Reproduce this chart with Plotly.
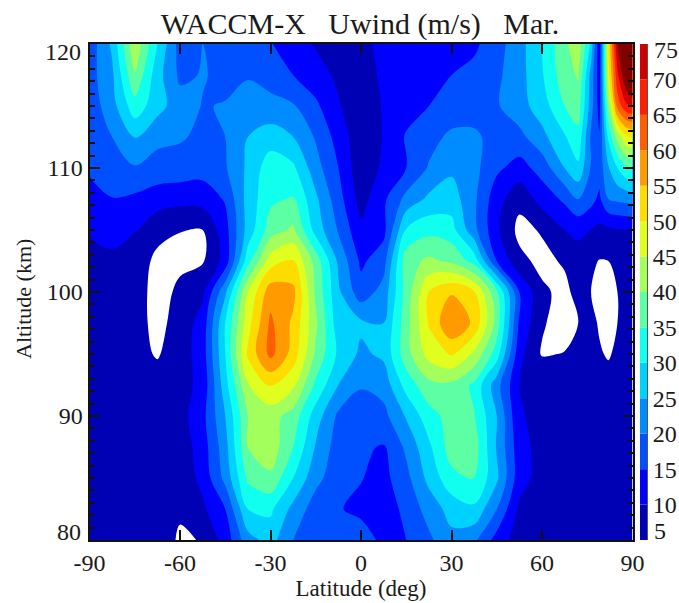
import plotly.graph_objects as go

lat = [-90,-82.5,-75,-67.5,-60,-52.5,-45,-37.5,-30,-22.5,-15,-7.5,0,7.5,15,22.5,30,37.5,45,52.5,60,67.5,72,76,79,82,85,88,90]
alt = [80,82.5,85,87.5,90,92.5,95,97.5,100,102.5,105,107.5,110,112.5,115,117.5,120]

u080 = [7,7,7,7,4.5,5.2,12,23,27,20,16.5,16,17,14,15,19,23.5,21,13,7.5,7,7,7,7,7,7,7,7,7]
u082 = [7,7,7,7,5.5,9,15,30,31,23.5,17.5,15.3,14,12,16.5,22,27,29,20,9,7.5,7.5,7.5,7.5,7.5,7.5,7.5,7.5,7.5]
u085 = [7,7,7,7,6.5,11.5,21.5,36,39,30,21.5,17,15.2,13.5,18.5,26.5,33.5,35.2,26,12,8,8,8,8,8,8,8,8,8]
u087 = [7,7,7,7,7,12.5,23,40,43,35,24.5,17.5,16,14.5,21,29,37.5,37.5,24.5,12,8,8,8,8,8,8,8,8,8]
u090 = [7,7,7,7,8,13.5,25,40,42,38,27.5,19,17,18.5,25.5,33,37,35.3,25,10.5,8.5,8.5,8.5,8.5,8.5,8.5,8.5,8.5,8.5]
u092 = [6.5,6.5,7,7,8,11.5,28,44.5,50.5,46,34,25,20.5,22,32,38.5,38.8,34,22,10,8,8,8,8,7.5,7,7.5,8,8]
u095 = [6.5,6.5,6.5,4.6,7.5,12.5,30,51,61.5,53,39,29,24,26,38,47,50.5,44,32.5,11.5,4.6,5.2,7.5,6.5,5.5,4.5,6,6.5,7]
u097 = [7,7.5,7,3.5,7,12,30,48,61,54,41,27,26,25,38,50.5,59.8,54,38,14,5.5,3,5,6.5,4.5,3,5,6.5,7]
u100 = [7.5,8,7.5,3,6,9,24,45,58,56.5,39,26,17,22,37,50,54.5,50.5,36,15,6,3.5,7,5.2,3,3,5,7,7.5]
u102 = [8,9.5,8.5,3.5,4,4.5,12,33,47.5,50.2,38,24,14,18,38,41,39,33,15,6.5,3.5,5.7,8,6,4.8,5,7.5,8.5,8.5]
u105 = [10.7,10.8,10.2,7,5.1,5.0,13,27,37.5,41,28,19.5,11,13.5,30.5,33.5,32,21.5,11,3.5,5.5,10,11,10,9,9,9.5,9.8,10]
u107 = [12.5,14.8,14,12,11.5,12,15.5,27,34,35.5,26,17,8,14,21.5,26,27.5,21,12,6.5,12,16,20,17,14,20,21,21.5,22]
u110 = [16,18.5,19.5,18.5,18,17,19.5,26,33,31,22,15,6.5,11,15,20.5,24,21.5,16,13,17,25,29,20,17,24.5,30,34.5,36]
u112 = [17,20,25.5,21,20.5,19,20,25,27.5,25,19.5,13,6.5,10.3,15.5,18,21.2,21,18,18.5,23.5,29.5,33.5,20,15.5,31,42,49,50.5]
u115 = [17,23,33,27,22,19.8,20.2,22.5,21.5,20.5,16,10.5,6.5,10.5,13,15,16.5,17.5,19.5,23,27.5,35,37.5,23,13,40,62,69,70]
u117 = [18,24,39.5,27,19,20.3,19,19.5,18,15,12,9,7.5,11,12,13,15,16.5,19,23,29.5,38,40.5,24,12,48,69,81,87]
u120 = [17,26,44,30,18,20,18,17,15.3,12.5,9.5,7,9.5,10.5,11.5,12,12.5,14,18,23,30,39,43,30,11,50,75,90,96]
uwind = [u080,u082,u085,u087,u090,u092,u095,u097,u100,u102,u105,u107,u110,u112,u115,u117,u120]

levels = [5,10,15,20,25,30,35,40,45,50,55,60,65,70,75]
band_colors = ["#0000B4","#0000FF","#0050FF","#008CFF","#00D2FF","#10FFEF","#5CFFA3","#A3FF5C",
               "#E0FF1F","#FFDC00","#FF9B00","#FF5E00","#FF1F00","#D00000"]
top_color = "#800000"
lat_ticks = [-90,-60,-30,0,30,60,90]
lat_labels = ["-90","-60","-30","0","30","60","90"]
alt_inner_ticks = [90,100,110]

W, H = 679, 603
def fx(px): return px/W
def fy(px): return 1-px/H
FONT = "Liberation Serif"
INK = "#1a1a1a"

n = len(band_colors)
colorscale = [[0, "#FFFFFF"], [0.02, "#FFFFFF"]]
colorscale += [[(i+0.5)/n, c] for i, c in enumerate(band_colors)]
colorscale += [[1, top_color]]

fig = go.Figure()
fig.add_trace(go.Contour(
    x=lat, y=alt, z=uwind, colorscale=colorscale, showscale=False, autocontour=False,
    zmin=5, zmax=75,
    contours=dict(start=levels[0], end=levels[-1], size=5, coloring="fill", showlines=False),
    line=dict(width=0), hoverinfo="skip"))

fig.add_trace(go.Bar(
    x=[0]*n, y=[5]*n, base=levels[:-1],
    marker=dict(color=band_colors, line=dict(width=0)), width=1,
    xaxis="x2", yaxis="y2", showlegend=False, hoverinfo="skip"))

xd = [fx(89.5), fx(632.5)]
yd = [fy(540), fy(44)]
axis_common = dict(showgrid=False, zeroline=False, showline=True, linecolor="#111111", linewidth=2,
                   automargin=False, ticks="inside", tickcolor="#111111", tickwidth=1.5, ticklen=10,
                   mirror="allticks", tickfont=dict(family=FONT, size=24, color=INK))

def label(text, x, y, anchor="left", size=24, angle=0):
    return dict(text=text, xref="paper", yref="paper", x=fx(x), y=fy(y), xanchor=anchor, yanchor="middle",
                showarrow=False, textangle=angle, font=dict(family=FONT, size=size, color=INK))

fig.update_layout(
    width=W, height=H, margin=dict(l=0, r=0, t=0, b=0), paper_bgcolor="white", plot_bgcolor="white",
    font=dict(family=FONT, color=INK), barmode="overlay",
    title=dict(text="WACCM-X\u00a0\u00a0\u00a0Uwind (m/s)\u00a0\u00a0\u00a0Mar.", x=fx(360), xanchor="center",
               y=fy(23), yanchor="middle", font=dict(family=FONT, size=30, color=INK)),
    xaxis=dict(domain=xd, range=[-90,90], tickvals=lat_ticks, ticktext=lat_labels,
               title=dict(text="Latitude (deg)", standoff=4, font=dict(family=FONT, size=23, color=INK)), **axis_common),
    yaxis=dict(domain=yd, range=[80,120], tickvals=alt_inner_ticks,
               minor=dict(dtick=1, ticks="inside", ticklen=5, tickcolor="#111111", tickwidth=1.5), **axis_common),
    xaxis2=dict(domain=[fx(640), fx(647)], range=[-0.5,0.5], anchor="y2", showgrid=False, zeroline=False,
                showticklabels=False, ticks="", automargin=False),
    yaxis2=dict(domain=yd, range=[5,75], anchor="x2", side="right", tickvals=levels[1:-1], ticks="",
                automargin=False, showgrid=False, zeroline=False, showline=True, linecolor="#555555", linewidth=1,
                tickfont=dict(family=FONT, size=24, color=INK)),
    annotations=[
        label("75", 652, 50), label("5", 652, 531),
        label("120", 83, 52, anchor="right"), label("80", 83, 532, anchor="right"),
        label("Altitude (km)", 23, 299, anchor="center", size=22, angle=-90),
    ],
)
fig.write_html("out.html", config=dict(displayModeBar=False),
               post_script="document.body.style.margin='0';document.body.style.overflow='hidden';")
